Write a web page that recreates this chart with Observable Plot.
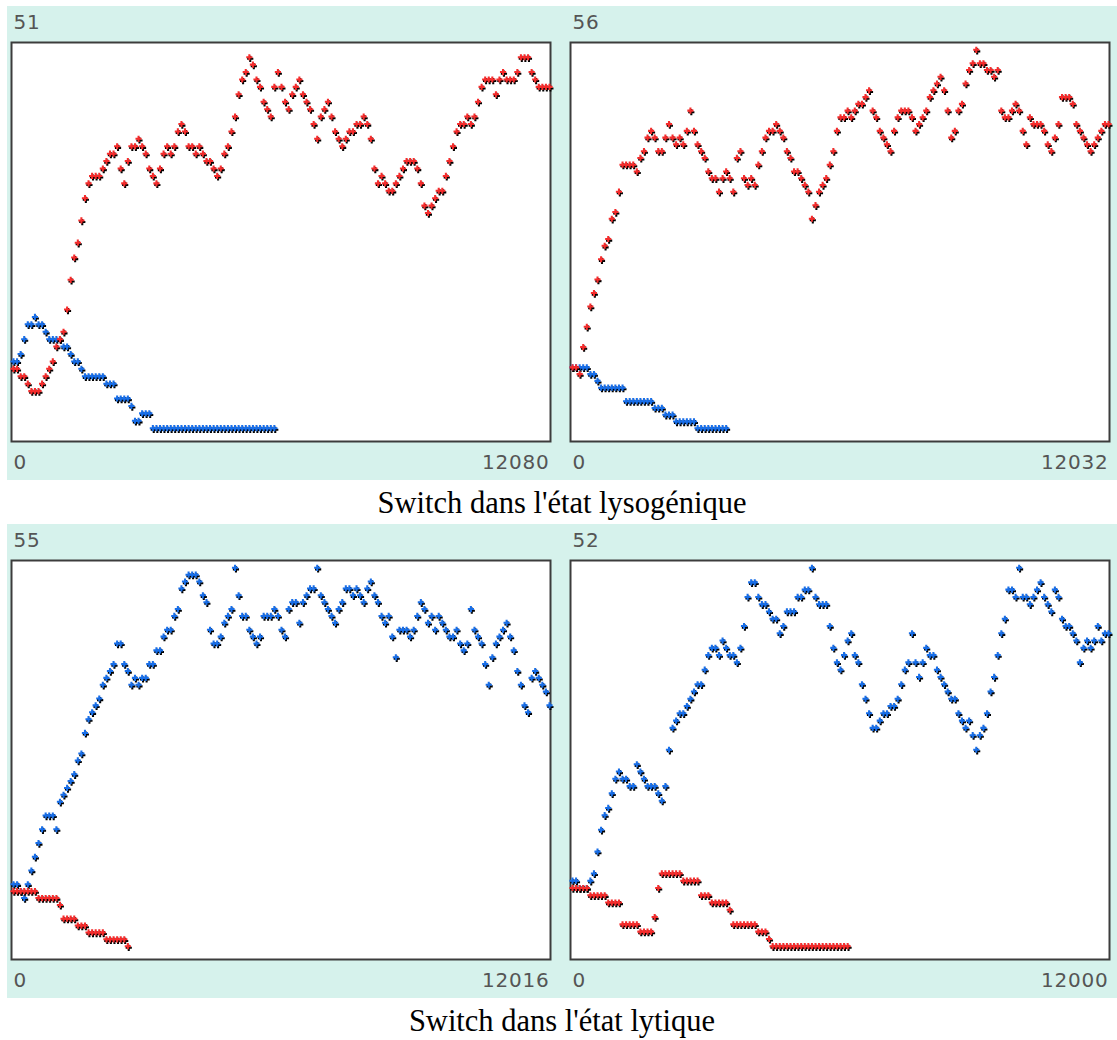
<!DOCTYPE html>
<html>
<head>
<meta charset="utf-8">
<script src="https://cdn.jsdelivr.net/npm/d3@7"></script>
<script src="https://cdn.jsdelivr.net/npm/@observablehq/plot@0.6"></script>
<style>
  body { margin: 0; background: #fff; width: 1117px; height: 1040px; position: relative; overflow: hidden; }
  .panel { position: absolute; }
  .panel svg { display: block; }
  .panel svg text { letter-spacing: 0.8px; }
  .cap { position: absolute; left: 7px; width: 1110px; text-align: center;
         font-family: "Liberation Serif", "Times New Roman", serif; font-size: 30.5px; line-height: 30px; color: #000; }
</style>
</head>
<body>
<script>
// Sampling: each series value i is at time i * T / N
const N = 150;

// Panel titles (max of y scale) and end times
const panelMax = [51, 56, 55, 52];
const panelEnd = [12080, 12032, 12016, 12000];
const captions = ["Switch dans l'état lysogénique", "Switch dans l'état lytique"];

// Panel 1 (top-left)
const p1Red = [8,8,7,7,6,5,5,5,6,7, 8,9,11,12,13,16,20,23,25,28, 31,33,34,34,34,35,36,37,37,38,
  35,33,36,38,38,39,38,37,35,34, 33,35,37,38,37,38,40,41,40,38, 38,37,38,37,36,36,35,34,35,37,
  38,40,42,45,47,48,50,49,47,46, 44,43,42,46,48,46,44,43,45,46, 47,45,44,43,41,39,42,43,44,42,
  40,39,38,39,40,40,41,41,42,41, 39,35,33,34,33,32,32,33,34,35, 36,36,36,35,33,30,29,30,31,32,
  32,34,36,38,40,41,41,42,41,42, 44,46,47,47,47,45,47,48,47,47, 47,48,50,50,50,48,47,46,46,46,46];
const p1Blue = [9,9,10,12,14,14,15,14,14,13, 12,12,12,12,11,11,10,9,9,8, 7,7,7,7,7,7,6,6,6,4,
  4,4,4,3,1,1,2,2,2,0, 0,0,0,0,0,0,0,0,0,0, 0,0,0,0,0,0,0,0,0,0, 0,0,0,0,0,0,0,0,0,0, 0,0,0,0];

// Panel 2 (top-right)
const p2Red = [9,9,8,12,15,18,20,22,25,27, 28,31,32,35,39,39,39,39,38,40, 41,43,44,43,41,41,43,45,43,42,
  43,42,44,47,44,42,41,40,38,37, 37,35,37,38,37,35,40,41,37,36, 37,36,39,41,43,44,44,45,44,43,
  41,40,38,38,37,36,35,31,33,35, 36,37,39,41,44,46,46,47,46,47, 48,48,49,50,47,46,44,43,42,41,
  44,46,47,47,47,46,44,45,46,47, 49,50,51,52,50,47,43,44,47,48, 51,53,54,56,54,54,53,53,52,53,
  47,46,46,47,48,47,44,42,46,45, 45,45,44,42,41,43,45,49,49,49, 48,45,44,43,42,41,42,43,44,45,45];
const p2Blue = [9,9,9,9,9,8,8,7,6,6, 6,6,6,6,6,4,4,4,4,4, 4,4,4,3,3,3,2,2,2,1, 1,1,1,1,1,0,0,0,0,0, 0,0,0,0];

// Panel 3 (bottom-left)
const p3Blue = [9,9,8,7,9,11,13,15,17,19, 19,19,17,21,22,23,24,25,27,28, 31,33,34,35,36,38,39,40,41,44,
  44,41,40,38,39,38,39,39,41,41, 43,43,45,46,46,48,49,52,53,54, 54,54,53,51,50,46,44,44,45,47,
  48,49,55,51,48,48,46,45,44,45, 48,48,48,49,48,46,45,49,50,50, 47,50,51,52,52,55,51,50,49,48,
  47,49,50,52,52,51,52,51,50,52, 53,51,50,48,47,48,45,42,46,46, 46,45,46,48,50,49,47,48,46,48,
  47,46,45,45,46,44,43,44,49,46, 45,44,41,38,42,44,45,46,47,45, 43,40,38,35,34,39,40,39,38,37,35];
const p3Red = [8,8,8,8,8,8,8,7,7,7, 7,7,7,6,4,4,4,4,3,3, 3,2,2,2,2,2,1,1,1,1, 1,1,0];

// Panel 4 (bottom-right)
const p4Blue = [9,9,8,8,8,9,10,13,16,18, 19,21,23,24,23,23,22,22,25,24, 23,22,22,22,21,20,22,27,30,31,
  32,32,33,34,35,36,36,38,40,41, 41,40,42,41,40,40,39,41,44,48, 50,50,48,47,47,46,45,45,43,44,
  46,46,46,48,48,49,49,52,48,47, 47,47,44,41,39,38,40,42,43,40, 39,36,34,32,30,30,31,32,32,33,
  33,34,36,38,39,43,39,37,39,41, 40,40,38,37,36,35,34,34,32,31, 30,31,29,27,29,30,32,35,37,40,
  43,45,49,49,48,52,48,48,47,48, 49,50,48,47,46,49,48,45,44,44, 43,42,39,41,42,41,42,44,42,43,43];
const p4Red = [8,8,8,8,8,7,7,7,7,7, 6,6,6,6,3,3,3,3,3,2, 2,2,2,4,8,10,10,10,10,10,
  10,9,9,9,9,9,7,7,7,6, 6,6,6,6,5,3,3,3,3,3, 3,3,2,2,2,1,0,0,0,0, 0,0,0,0,0,0,0,0,0,0, 0,0,0,0,0,0,0,0];

const TEAL = "#d6f2ec";
const RED = "#f52c2c";
const BLUE = "#186ee8";

function toPts(arr, T) { return arr.map((v, i) => ({t: i * T / N, v})); }

function panel(red, blue, T, max, pageLeft, pageTop, side) {
  const L = side === "L";
  const W = L ? 553 : 557;
  const ml = L ? 4 : 10, mr = L ? 10 : 8;
  const xr = L ? [6, 542] : [12, 548];
  const r = toPts(red, T), b = toPts(blue, T);
  const dotsFor = (data, color) => [
    Plot.dot(data, {x: "t", y: "v", symbol: "cross", r: 2.6, fill: "black", stroke: "none", dx: 0.9, dy: 1.6}),
    Plot.dot(data, {x: "t", y: "v", symbol: "cross", r: 2.6, fill: color, stroke: "none"})
  ];
  const txt = {fontSize: 20, fontFamily: "DejaVu Sans", fill: "#555", lineAnchor: "bottom"};
  const svg = Plot.plot({
    width: W, height: 474,
    marginTop: 36, marginBottom: 39, marginLeft: ml, marginRight: mr,
    style: {background: TEAL, overflow: "visible"},
    x: {domain: [0, T], range: xr, axis: null},
    y: {domain: [0, max], range: [421.7, 43.3], axis: null},
    marks: [
      Plot.frame({fill: "white", stroke: "#3c3c3c", strokeWidth: 2}),
      ...dotsFor(b, BLUE),
      ...dotsFor(r, RED),
      Plot.text([max], {frameAnchor: "top-left", text: d => String(d), dx: 2, dy: -14, textAnchor: "start", ...txt}),
      Plot.text([0], {x: d => d, frameAnchor: "bottom", text: d => String(d), dy: 27, textAnchor: "start", ...txt}),
      Plot.text([T], {x: d => d, frameAnchor: "bottom", text: d => String(d), dy: 27, textAnchor: "end", ...txt})
    ]
  });
  const div = document.createElement("div");
  div.className = "panel";
  div.style.left = pageLeft + "px";
  div.style.top = pageTop + "px";
  div.style.width = W + "px";
  div.appendChild(svg);
  document.body.appendChild(div);
}

panel(p1Red, p1Blue, panelEnd[0], panelMax[0], 7, 6, "L");
panel(p2Red, p2Blue, panelEnd[1], panelMax[1], 560, 6, "R");
panel(p3Red, p3Blue, panelEnd[2], panelMax[2], 7, 524, "L");
panel(p4Red, p4Blue, panelEnd[3], panelMax[3], 560, 524, "R");

captions.forEach((c, i) => {
  const d = document.createElement("div");
  d.className = "cap";
  d.style.top = (488 + i * 518) + "px";
  d.textContent = c;
  document.body.appendChild(d);
});
</script>
</body>
</html>
